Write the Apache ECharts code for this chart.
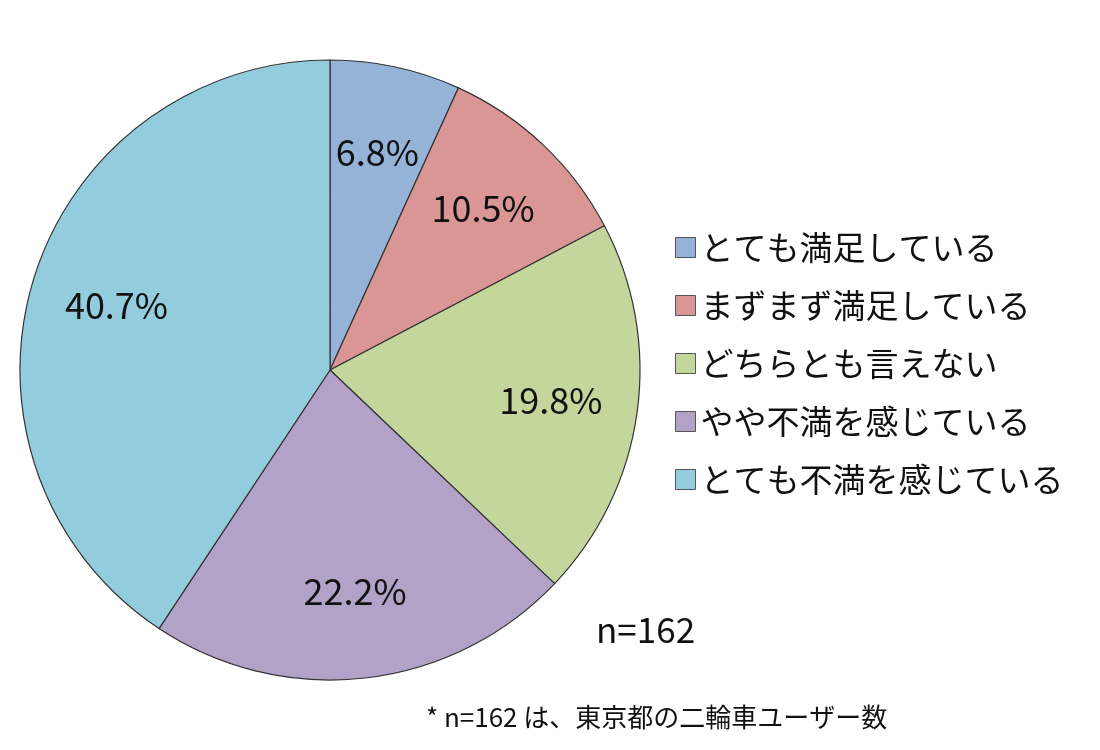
<!DOCTYPE html>
<html><head><meta charset="utf-8">
<script src="https://cdn.jsdelivr.net/npm/echarts@6/dist/echarts.min.js"></script>
<style>html,body{margin:0;background:#fff}#c{width:1100px;height:750px}</style>
</head><body><div id="c"></div>
<script>
const categories=['とても満足している','まずまず満足している','どちらとも言えない','やや不満を感じている','とても不満を感じている'];
const values=[6.8,10.5,19.8,22.2,40.7];
const colors=['#95B3D7','#D99694','#C3D69B','#B3A2C7','#93CDDD'];
const font='"Noto Sans CJK JP","Noto Sans",sans-serif';
const chart=echarts.init(document.getElementById('c'));
const data=categories.map((n,i)=>({name:n,value:values[i]}));
chart.setOption({
  animation:false,
  color:colors,
  legend:{orient:'vertical',left:670,top:226,itemGap:25,itemWidth:20,itemHeight:20,icon:'rect',
    itemStyle:{borderColor:'#555',borderWidth:1},
    textStyle:{fontFamily:font,fontSize:33,color:'#111'},data:categories},
  graphic:[
    {type:'text',left:596,top:612,style:{text:'n=162',fontFamily:font,fontSize:35,fill:'#111'}},
    {type:'text',left:426,top:704,style:{text:'* n=162 は、東京都の二輪車ユーザー数',fontFamily:font,fontSize:26,fill:'#111'}}
  ],
  series:[{type:'pie',center:[330,370],radius:310,startAngle:90,clockwise:true,
    itemStyle:{borderColor:'#333',borderWidth:1.2},
    label:{show:false},labelLine:{show:false},data:data},
   {type:'pie',center:[330,370],radius:440,startAngle:90,clockwise:true,silent:true,z:5,
    itemStyle:{color:'rgba(0,0,0,0)',borderWidth:0},
    label:{position:'inside',formatter:p=>p.value.toFixed(1)+'%',fontFamily:font,fontSize:36,color:'#111'},
    labelLine:{show:false},data:data}]
});
</script></body></html>
